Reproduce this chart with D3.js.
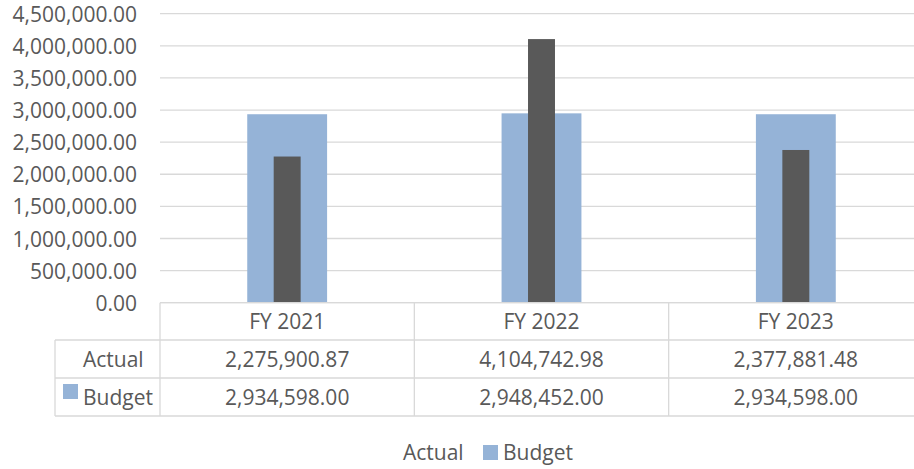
<!DOCTYPE html>
<html>
<head>
<meta charset="utf-8">
<script src="https://cdn.jsdelivr.net/npm/d3@7"></script>
<style>
  body { margin: 0; background: #fff; }
  svg { display: block; font-family: "Open Sans", sans-serif; }
  text { fill: #595959; font-size: 21px; }
</style>
</head>
<body>
<svg width="914" height="469"></svg>
<script>
var categories = ["FY 2021", "FY 2022", "FY 2023"];
var actual = [2275900.87, 4104742.98, 2377881.48];
var budget = [2934598.00, 2948452.00, 2934598.00];
var yTickValues = [0, 500000, 1000000, 1500000, 2000000, 2500000, 3000000, 3500000, 4000000, 4500000];
var seriesNames = ["Actual", "Budget"];

var svg = d3.select("svg");
var fmt = d3.format(",.2f");
var gridColor = "#d9d9d9";
var budgetColor = "#95b3d7";
var actualColor = "#595959";

var x = d3.scaleBand()
    .domain(categories)
    .range([160, 923])
    .padding(0);

var y = d3.scaleLinear()
    .domain([0, 4500000])
    .range([302.7, 13.7]);

// gridlines
svg.append("g")
  .selectAll("line")
  .data(yTickValues)
  .enter().append("line")
    .attr("x1", 160)
    .attr("x2", 923)
    .attr("y1", function(d) { return y(d); })
    .attr("y2", function(d) { return y(d); })
    .attr("stroke", gridColor)
    .attr("stroke-width", 1.3);

// y axis labels
var yAxis = d3.axisLeft(y).tickValues(yTickValues).tickFormat(fmt).tickSize(0).tickPadding(0);
var ya = svg.append("g")
    .attr("transform", "translate(137,0)")
    .call(yAxis)
    .attr("font-family", null)
    .attr("font-size", null);
ya.select(".domain").remove();
ya.selectAll("text")
    .attr("fill", "#595959")
    .attr("dy", "0.36em");

// bars
var bw = x.bandwidth();
svg.append("g")
  .selectAll("rect")
  .data(budget)
  .enter().append("rect")
    .attr("x", function(d, i) { return x(categories[i]) + bw / 2 - bw * 0.157; })
    .attr("width", bw * 0.314)
    .attr("y", function(d) { return y(d); })
    .attr("height", function(d) { return y(0) - y(d); })
    .attr("fill", budgetColor);

svg.append("g")
  .selectAll("rect")
  .data(actual)
  .enter().append("rect")
    .attr("x", function(d, i) { return x(categories[i]) + bw / 2 - bw * 0.053; })
    .attr("width", bw * 0.106)
    .attr("y", function(d) { return y(d); })
    .attr("height", function(d) { return y(0) - y(d); })
    .attr("fill", actualColor);

// data table
var rowTops = [302.7, 340, 378, 416];
var table = svg.append("g");

table.selectAll("line.h")
  .data(rowTops)
  .enter().append("line")
    .attr("class", "h")
    .attr("x1", function(d, i) { return i == 0 ? 160 : 55; })
    .attr("x2", 923)
    .attr("y1", function(d) { return d; })
    .attr("y2", function(d) { return d; })
    .attr("stroke", gridColor)
    .attr("stroke-width", 1.3);

var vlines = [55].concat(categories.map(function(c) { return x(c); }));
table.selectAll("line.v")
  .data(vlines)
  .enter().append("line")
    .attr("class", "v")
    .attr("x1", function(d) { return d; })
    .attr("x2", function(d) { return d; })
    .attr("y1", function(d, i) { return i == 0 ? 340 : 302.7; })
    .attr("y2", 416)
    .attr("stroke", gridColor)
    .attr("stroke-width", 1.3);

table.selectAll("text.cat")
  .data(categories)
  .enter().append("text")
    .attr("class", "cat")
    .attr("x", function(d) { return x(d) + bw / 2; })
    .attr("y", 321.5)
    .attr("dy", "0.36em")
    .attr("text-anchor", "middle")
    .text(function(d) { return d; });

[actual, budget].forEach(function(series, r) {
  var cy = (rowTops[r + 1] + rowTops[r + 2]) / 2;
  table.append("text")
      .attr("x", 83)
      .attr("y", cy)
      .attr("dy", "0.36em")
      .text(seriesNames[r]);
  table.selectAll("text.v" + r)
    .data(series)
    .enter().append("text")
      .attr("class", "v" + r)
      .attr("x", function(d, i) { return x(categories[i]) + bw / 2; })
      .attr("y", cy)
      .attr("dy", "0.36em")
      .attr("text-anchor", "middle")
      .text(function(d) { return fmt(d); });
});

// budget key in the table
table.append("rect")
    .attr("x", 63)
    .attr("y", 384)
    .attr("width", 15)
    .attr("height", 15)
    .attr("fill", budgetColor);

// legend
var legend = svg.append("g");
legend.append("text")
    .attr("x", 403)
    .attr("y", 452)
    .attr("dy", "0.36em")
    .text("Actual");
legend.append("rect")
    .attr("x", 483)
    .attr("y", 445)
    .attr("width", 15)
    .attr("height", 15)
    .attr("fill", budgetColor);
legend.append("text")
    .attr("x", 503)
    .attr("y", 452)
    .attr("dy", "0.36em")
    .text("Budget");
</script>
</body>
</html>
